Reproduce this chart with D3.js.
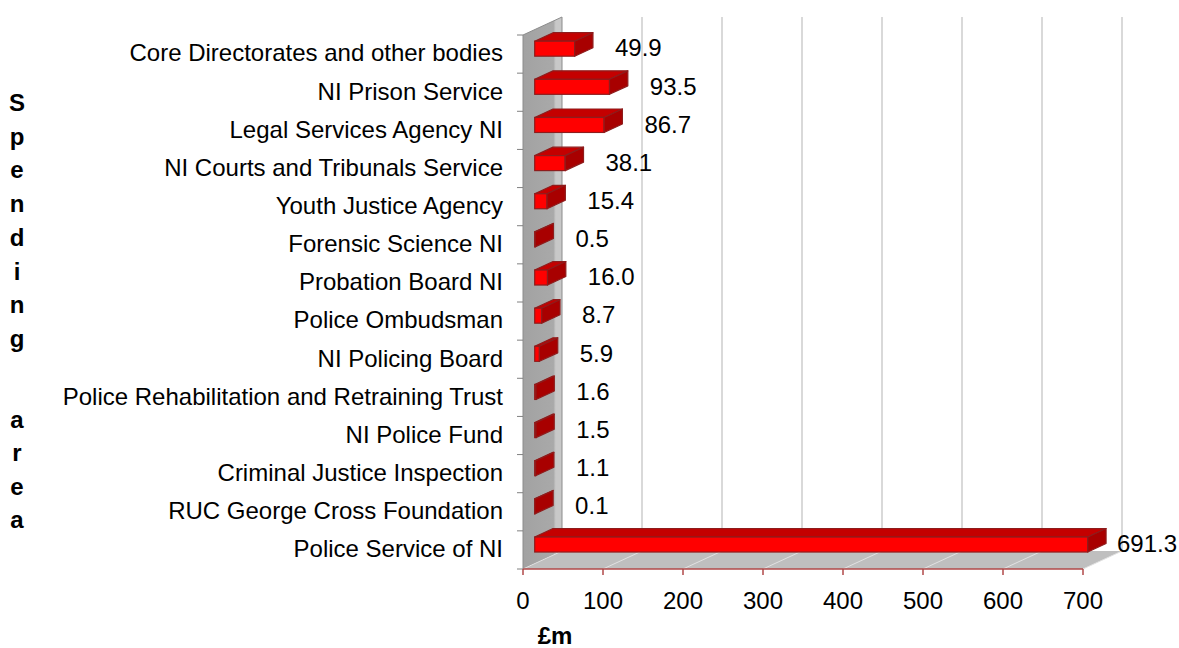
<!DOCTYPE html>
<html lang="en">
<head>
<meta charset="UTF-8">
<title>Spending area</title>
<script src="https://d3js.org/d3.v7.min.js"></script>
<style>
  body { margin: 0; background: #fff; }
  text { font-family: "Liberation Sans", Arial, sans-serif; fill: #000; }
  .cat { font-size: 24px; text-anchor: end; dominant-baseline: middle; }
  .val { font-size: 24px; dominant-baseline: middle; }
  .tick-label { font-size: 24px; text-anchor: middle; }
  .title { font-size: 24px; font-weight: bold; text-anchor: middle; }
</style>
</head>
<body>
<svg id="chart" width="1179" height="648"></svg>
<script>
// spending by area, £m (top to bottom as shown)
const categories = [
  "Core Directorates and other bodies",
  "NI Prison Service",
  "Legal Services Agency NI",
  "NI Courts and Tribunals Service",
  "Youth Justice Agency",
  "Forensic Science NI",
  "Probation Board NI",
  "Police Ombudsman",
  "NI Policing Board",
  "Police Rehabilitation and Retraining Trust",
  "NI Police Fund",
  "Criminal Justice Inspection",
  "RUC George Cross Foundation",
  "Police Service of NI"
];
const values = [49.9, 93.5, 86.7, 38.1, 15.4, 0.5, 16.0, 8.7, 5.9, 1.6, 1.5, 1.1, 0.1, 691.3];
const xTicks = [0, 100, 200, 300, 400, 500, 600, 700];

const svg = d3.select("#chart");

const x = d3.scaleLinear().domain([0, 700]).range([523, 1083]);
const y = d3.scaleBand().domain(categories).range([35, 569]).padding(0);

// depth of the 3d box (front plane -> back wall)
const DX = 39, DY = -18;
const yTop = y.range()[0], yBottom = y.range()[1];

// left wall
const grad = svg.append("defs").append("linearGradient")
  .attr("id", "wallGrad").attr("x1", "0").attr("x2", "1").attr("y1", "0").attr("y2", "0");
grad.append("stop").attr("offset", "0%").attr("stop-color", "#a2a2a2");
grad.append("stop").attr("offset", "78%").attr("stop-color", "#a9a9a9");
grad.append("stop").attr("offset", "84%").attr("stop-color", "#c8c8c8");
grad.append("stop").attr("offset", "100%").attr("stop-color", "#c8c8c8");

svg.append("polygon")
  .attr("points", [[x(0), yTop], [x(0) + DX, yTop + DY], [x(0) + DX, yBottom + DY], [x(0), yBottom]].join(" "))
  .attr("fill", "url(#wallGrad)")
  .attr("stroke", "#8c8c8c").attr("stroke-width", 1);

// floor
svg.append("polygon")
  .attr("points", [[x(0), yBottom], [x(700), yBottom], [x(700) + DX, yBottom + DY], [x(0) + DX, yBottom + DY]].join(" "))
  .attr("fill", "#bfbfbf");

// gridlines on back wall and floor
xTicks.forEach(t => {
  if (t > 0) {
    svg.append("line")
      .attr("x1", x(t) + DX).attr("x2", x(t) + DX)
      .attr("y1", yTop + DY).attr("y2", yBottom + DY)
      .attr("stroke", "#d9d9d9").attr("stroke-width", 2);
  }
  svg.append("line")
    .attr("x1", x(t)).attr("y1", yBottom)
    .attr("x2", x(t) + DX).attr("y2", yBottom + DY)
    .attr("stroke", "#e2e2e2").attr("stroke-width", 1);
});

// category ticks on the wall edge
d3.range(categories.length + 1).forEach(i => {
  const yy = yTop + i * y.step();
  svg.append("line")
    .attr("x1", x(0) - 6).attr("x2", x(0))
    .attr("y1", yy).attr("y2", yy)
    .attr("stroke", "#808080").attr("stroke-width", 1);
});

// x axis line and ticks
svg.append("line")
  .attr("x1", x(0)).attr("x2", x(700))
  .attr("y1", yBottom).attr("y2", yBottom)
  .attr("stroke", "#b04848").attr("stroke-width", 1.5);
xTicks.forEach(t => {
  svg.append("line")
    .attr("x1", x(t)).attr("x2", x(t))
    .attr("y1", yBottom).attr("y2", yBottom + 6)
    .attr("stroke", "#b04848").attr("stroke-width", 1.5);
  svg.append("text").attr("class", "tick-label")
    .attr("x", x(t)).attr("y", yBottom + 40)
    .text(t);
});

// bars
const f0 = 0.3, f1 = 0.77;        // depth fractions occupied by bars
const barH = 15;
const bdx = (f1 - f0) * DX, bdy = (f1 - f0) * DY;
const stroke = "#8e1c1c";

categories.forEach((c, i) => {
  const v = values[i];
  const cy = y(c) + y.bandwidth() / 2 + f0 * DY;
  const x0 = x(0) + f0 * DX, x1 = x(v) + f0 * DX;
  const y0 = cy - barH / 2, y1 = cy + barH / 2;
  const g = svg.append("g");
  g.append("polygon") // top face
    .attr("points", [[x0, y0], [x1, y0], [x1 + bdx, y0 + bdy], [x0 + bdx, y0 + bdy]].join(" "))
    .attr("fill", "#c40000").attr("stroke", stroke).attr("stroke-width", 1.2).attr("stroke-linejoin", "round");
  g.append("rect") // front face
    .attr("x", x0).attr("y", y0).attr("width", x1 - x0).attr("height", barH)
    .attr("fill", "#ff0000").attr("stroke", stroke).attr("stroke-width", 1.2);
  g.append("polygon") // end cap
    .attr("points", [[x1, y0], [x1 + bdx, y0 + bdy], [x1 + bdx, y1 + bdy], [x1, y1]].join(" "))
    .attr("fill", "#a80000").attr("stroke", stroke).attr("stroke-width", 1.2).attr("stroke-linejoin", "round");

  svg.append("text").attr("class", "val")
    .attr("x", Math.min(x1 + bdx + 22, 1117))
    .attr("y", y(c) + y.bandwidth() / 2 - 4)
    .text(v.toFixed(1));
});

// category labels
categories.forEach(c => {
  svg.append("text").attr("class", "cat")
    .attr("x", 503).attr("y", y(c) + y.bandwidth() / 2 + 1)
    .text(c);
});

// axis titles
svg.append("text").attr("class", "title")
  .attr("x", 555).attr("y", 644)
  .text("£m");

const yTitle = svg.append("text").attr("class", "title");
const word1 = "Spending", word2 = "area";
word1.split("").forEach((ch, i) => {
  yTitle.append("tspan").attr("x", 17).attr("y", 111 + i * 33.7).text(ch);
});
word2.split("").forEach((ch, i) => {
  yTitle.append("tspan").attr("x", 17).attr("y", 428 + i * 33.3).text(ch);
});
</script>
</body>
</html>
